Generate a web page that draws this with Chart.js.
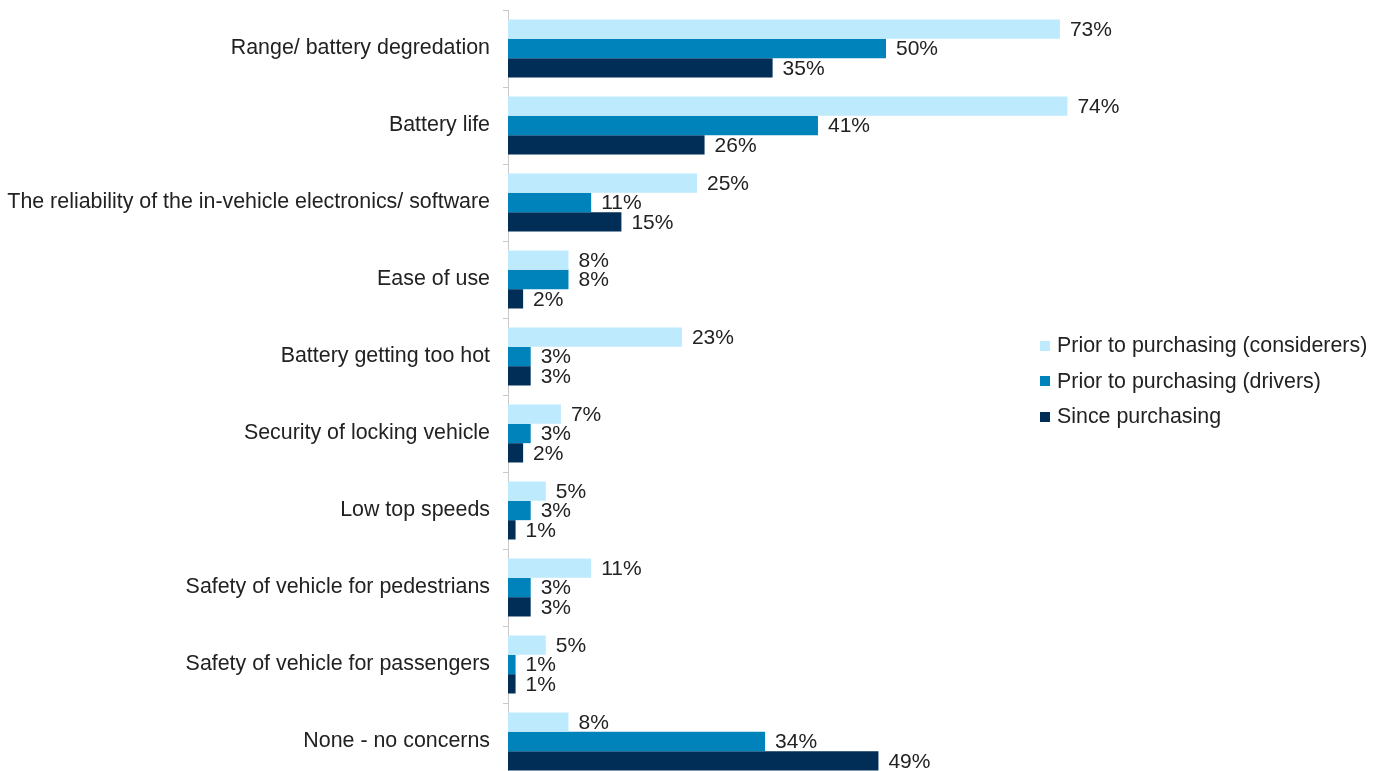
<!DOCTYPE html>
<html>
<head>
<meta charset="utf-8">
<script src="https://cdn.jsdelivr.net/npm/chart.js@4/dist/chart.umd.min.js"></script>
<style>
  html, body { margin: 0; padding: 0; background: #fff; overflow: hidden; }
  #wrap { position: relative; width: 1384px; height: 790px; }
  #legend {
    position: absolute; left: 1040px; top: 328px;
    font-family: "Liberation Sans", Arial, sans-serif; font-size: 21.4px; color: #222;
  }
  .item { display: flex; align-items: center; height: 35.5px; }
  .swatch { width: 10px; height: 10px; margin-right: 7px; }
</style>
</head>
<body>
<div id="wrap">
  <canvas id="chart" width="1384" height="790"></canvas>
  <div id="legend"></div>
</div>
<script>
const categories = [
  'Range/ battery degredation',
  'Battery life',
  'The reliability of the in-vehicle electronics/ software',
  'Ease of use',
  'Battery getting too hot',
  'Security of locking vehicle',
  'Low top speeds',
  'Safety of vehicle for pedestrians',
  'Safety of vehicle for passengers',
  'None - no concerns'
];
const seriesNames = [
  'Prior to purchasing (considerers)',
  'Prior to purchasing (drivers)',
  'Since purchasing'
];
const considerers = [73, 74, 25, 8, 23, 7, 5, 11, 5, 8];
const drivers = [50, 41, 11, 8, 3, 3, 3, 3, 1, 34];
const sincePurchase = [35, 26, 15, 2, 3, 2, 1, 3, 1, 49];
const colors = ['#bdeafd', '#0082bb', '#002e57'];

const FONT = '"Liberation Sans", Arial, sans-serif';

// percentage labels just past the end of each bar
const valueLabels = {
  id: 'valueLabels',
  afterDatasetsDraw(chart) {
    const ctx = chart.ctx;
    ctx.save();
    ctx.font = '21px ' + FONT;
    ctx.fillStyle = '#222';
    ctx.textAlign = 'left';
    ctx.textBaseline = 'middle';
    chart.data.datasets.forEach((ds, i) => {
      chart.getDatasetMeta(i).data.forEach((bar, j) => {
        ctx.fillText(ds.data[j] + '%', bar.x + 10, bar.y + 1);
      });
    });
    ctx.restore();
  }
};

const series = [considerers, drivers, sincePurchase];

new Chart(document.getElementById('chart'), {
  type: 'bar',
  data: {
    labels: categories,
    datasets: series.map((data, i) => ({
      label: seriesNames[i],
      data: data,
      backgroundColor: colors[i],
      borderWidth: 0,
      categoryPercentage: 0.753,
      barPercentage: 1.0
    }))
  },
  options: {
    indexAxis: 'y',
    responsive: false,
    animation: false,
    layout: { padding: { top: 10, bottom: 10, left: 0, right: 120 } },
    plugins: {
      legend: { display: false },
      tooltip: { enabled: false }
    },
    scales: {
      x: { display: false, min: 0, max: 100 },
      y: {
        afterFit(scale) {
          scale.width = 508;
          scale.paddingTop = 0;
          scale.paddingBottom = 0;
        },
        border: { display: true, color: '#c8c8c8', width: 1 },
        grid: { drawOnChartArea: false, drawTicks: true, tickLength: 5, color: '#c8c8c8' },
        ticks: {
          padding: 13,
          color: '#222',
          font: { family: FONT, size: 21.4 }
        }
      }
    }
  },
  plugins: [valueLabels]
});

document.getElementById('legend').innerHTML = seriesNames.map((name, i) => `
  <div class="item"><span class="swatch" style="background:${colors[i]}"></span>${name}</div>
`).join('');
</script>
</body>
</html>
